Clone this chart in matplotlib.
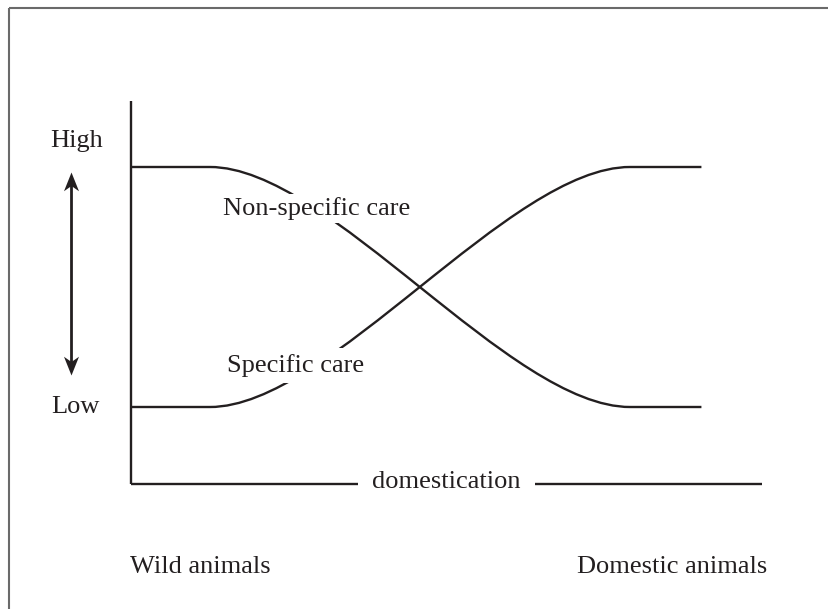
import matplotlib
matplotlib.use("Agg")
import matplotlib.pyplot as plt
from matplotlib.path import Path
from matplotlib.patches import PathPatch
from matplotlib.lines import Line2D

# ---------------- data (conceptual diagram) ----------------
# x: progress of domestication (0 = wild, 100 = end of axis)
stage_x = [0, 12.5, 31.5, 60.0, 79.1, 90.4]
nonspecific_care = [1, 1, 1, 0, 0, 0]   # 1 = High, 0 = Low
specific_care = [0, 0, 0, 1, 1, 1]
path_codes = [Path.MOVETO, Path.LINETO, Path.CURVE4, Path.CURVE4, Path.CURVE4, Path.LINETO]
curve_labels = ["Non-specific care", "Specific care"]
level_labels = ["High", "Low"]
axis_label = "domestication"
end_labels = ["Wild animals", "Domestic animals"]

# ---------------- figure ----------------
W, H = 829, 609
plt.rcParams['font.family'] = ['Liberation Serif', 'DejaVu Serif']
ink = '#231f20'
fs = 19

fig = plt.figure(figsize=(W / 100, H / 100), dpi=100)
fig.patch.set_facecolor('white')

def fx(px):
    return px / W

def fy(py):
    return 1 - py / H

# main axes: x 0..100 spans px 131..762 ; y: Low(0) at px 407, High(1) at px 167
ax_top, ax_bot = 101, 484
ax = fig.add_axes([fx(131), fy(ax_bot), fx(762) - fx(131), fy(ax_top) - fy(ax_bot)])
ax.set_xlim(0, 100)
ax.set_ylim((407 - ax_bot) / 240, (407 - ax_top) / 240)
ax.set_facecolor('none')
for s in ['top', 'right']:
    ax.spines[s].set_visible(False)
for s in ['left', 'bottom']:
    ax.spines[s].set_linewidth(1.7)
    ax.spines[s].set_color(ink)
    ax.spines[s].set_capstyle('butt')
ax.set_xticks([])
ax.set_yticks([])

for ys in (nonspecific_care, specific_care):
    p = Path(list(zip(stage_x, ys)), path_codes)
    ax.add_patch(PathPatch(p, facecolor='none', edgecolor=ink, lw=1.7, zorder=2))

# curve labels (white box breaks the curve)
ax.text(14.6, (407 - 215) / 240, curve_labels[0], fontsize=fs, color=ink,
        ha='left', va='baseline', zorder=3,
        bbox=dict(boxstyle='square,pad=0.12', fc='white', ec='none'))
ax.text(15.2, (407 - 372) / 240, curve_labels[1], fontsize=fs, color=ink,
        ha='left', va='baseline', zorder=3,
        bbox=dict(boxstyle='square,pad=0.22', fc='white', ec='none'))

# x-axis label interrupting the axis line
ax.text(50, (407 - 488) / 240, axis_label, fontsize=fs, color=ink,
        ha='center', va='baseline', zorder=5, clip_on=False,
        bbox=dict(boxstyle='square,pad=0.55', fc='white', ec='none'))

# level labels
fig.text(fx(50), fy(147), level_labels[0], fontsize=fs, color=ink, ha='left', va='baseline')
fig.text(fx(51), fy(413), level_labels[1], fontsize=fs, color=ink, ha='left', va='baseline')

# double-headed arrow with notched (stealth) heads
up_head = Path([(0, 0), (-0.4, -1), (0, -0.72), (0.4, -1), (0, 0)],
               [Path.MOVETO, Path.LINETO, Path.LINETO, Path.LINETO, Path.CLOSEPOLY])
down_head = Path([(0, 0), (-0.4, 1), (0, 0.72), (0.4, 1), (0, 0)],
                 [Path.MOVETO, Path.LINETO, Path.LINETO, Path.LINETO, Path.CLOSEPOLY])
fig.add_artist(Line2D([fx(71), fx(71)], [fy(182), fy(365)], transform=fig.transFigure,
                      color=ink, lw=2.0, solid_capstyle='butt'))
fig.add_artist(Line2D([fx(71)], [fy(172)], transform=fig.transFigure, marker=up_head,
                      markersize=27, color=ink, markeredgewidth=0, linestyle='none'))
fig.add_artist(Line2D([fx(71)], [fy(375)], transform=fig.transFigure, marker=down_head,
                      markersize=27, color=ink, markeredgewidth=0, linestyle='none'))

# end labels
fig.text(fx(130), fy(573), end_labels[0], fontsize=fs, color=ink, ha='left', va='baseline')
fig.text(fx(577), fy(573), end_labels[1], fontsize=fs, color=ink, ha='left', va='baseline')

# gray frame (left and top)
fig.add_artist(Line2D([fx(9), fx(9)], [fy(8), 0], transform=fig.transFigure,
                      color='#6a6a6a', lw=1.5, solid_capstyle='butt'))
fig.add_artist(Line2D([fx(9), 1], [fy(8), fy(8)], transform=fig.transFigure,
                      color='#6a6a6a', lw=1.5, solid_capstyle='butt'))

fig.savefig('out.png', dpi=100, facecolor='white')
